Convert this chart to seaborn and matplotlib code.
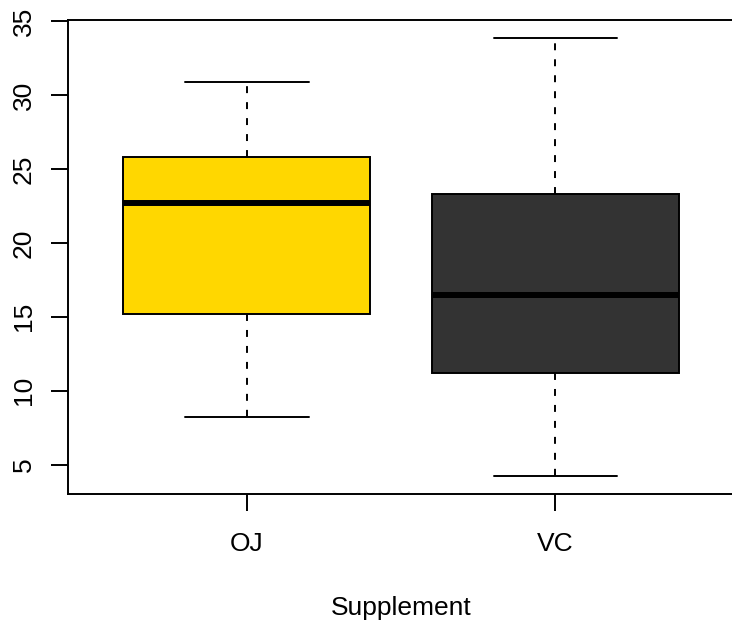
import numpy as np
import pandas as pd
import matplotlib
matplotlib.use('Agg')
import matplotlib.pyplot as plt
import seaborn as sns

# five-number summaries (min, Q1, median, Q3, max)
supp = ['OJ', 'VC']
oj_len = [8.2, 15.2, 22.7, 25.8, 30.9]
vc_len = [4.2, 11.2, 16.5, 23.3, 33.9]
box_colors = ['#FFD700', '#333333']
y_ticks = [5, 10, 15, 20, 25, 30, 35]

df = pd.DataFrame({
    'supp': [supp[0]] * len(oj_len) + [supp[1]] * len(vc_len),
    'len': oj_len + vc_len,
})

sns.set_theme(style='white')
plt.rcParams['font.family'] = ['Liberation Sans', 'DejaVu Sans']
plt.rcParams['lines.scale_dashes'] = False

fig = plt.figure(figsize=(7.32, 6.25), dpi=100)
ax = fig.add_axes([68 / 732, 131 / 625, 666 / 732, 474 / 625])

lw = 1.4
sns.boxplot(data=df, x='supp', y='len', hue='supp', palette=box_colors,
            saturation=1, width=0.8, whis=(0, 100), linecolor='black',
            linewidth=lw, legend=False, ax=ax,
            medianprops={'linewidth': 4.3, 'color': 'black'},
            whiskerprops={'linestyle': (0, (5, 6.5)), 'linewidth': lw},
            capprops={'linewidth': lw})

ax.set_xlim(-0.58, 1.58)
ax.set_ylim(3.012, 35.088)
ax.set_yticks(y_ticks)
ax.set_xticks([0, 1])
ax.set_xticklabels(supp)

for s in ax.spines.values():
    s.set_visible(True)
    s.set_color('black')
    s.set_linewidth(lw)

ax.tick_params(axis='both', which='major', direction='out', length=12,
               width=lw, color='black', labelsize=19, labelcolor='black',
               left=True, bottom=True)
ax.tick_params(axis='x', pad=15.5)
ax.tick_params(axis='y', pad=11, labelrotation=90)
for t in ax.get_yticklabels():
    t.set_va('center')

ax.set_xlabel('Supplement', fontsize=19, color='black', labelpad=29)
ax.set_ylabel('')

fig.savefig('out.png', dpi=100)
